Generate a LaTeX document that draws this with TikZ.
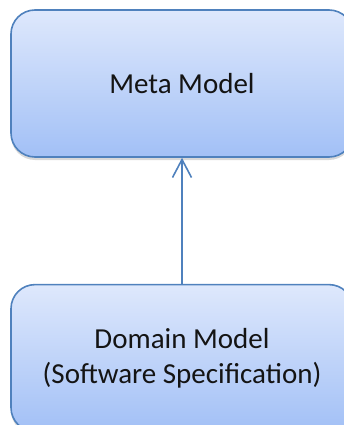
\documentclass[tikz,border=0pt]{standalone}
\usepackage{fontspec}
\setmainfont{Carlito}
\usepackage{tikz}
\usetikzlibrary{arrows.meta, positioning, shadows}
\definecolor{mmborder}{RGB}{79,129,189}
\definecolor{mmtop}{RGB}{222,232,252}
\definecolor{mmbottom}{RGB}{162,192,246}
\definecolor{mmtext}{RGB}{20,20,20}

\begin{document}
\begin{tikzpicture}[x=1pt, y=-1pt,
  model/.style={rectangle, rounded corners=24pt, draw=mmborder, line width=1.6pt, top color=mmtop, bottom color=mmbottom, minimum width=342pt, minimum height=147pt, align=center, text=mmtext, font=\fontsize{29}{35}\selectfont, drop shadow={opacity=0.3, shadow xshift=0pt, shadow yshift=-3pt}},
  arr/.style={-{Straight Barb[length=18pt, width=19pt, line width=1.6pt]}, line width=1.6pt, draw=mmborder}
]
\useasboundingbox (0,0) rectangle (344,425);
\node[model] (meta) at (182,83.5) {Meta Model};
\node[model, below=126pt of meta] (domain) {Domain Model\\(Software Specification)};
\draw[arr] (domain) -- (meta);
\end{tikzpicture}
\end{document}
